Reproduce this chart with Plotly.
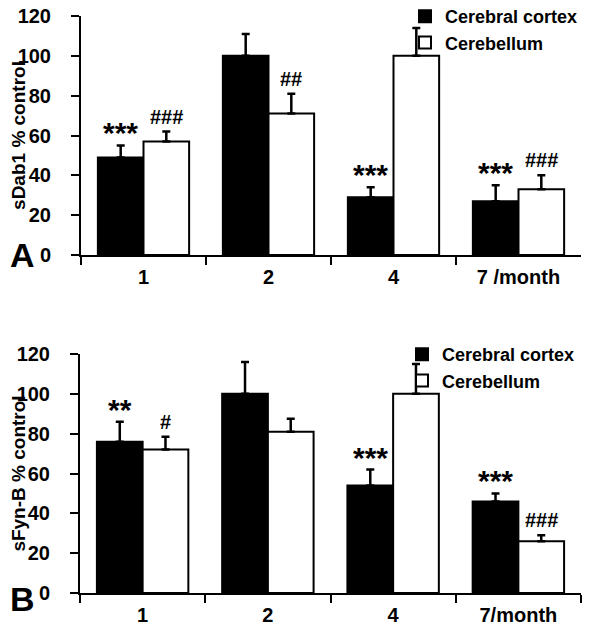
import plotly.graph_objects as go

# ---- data ----
months_a = ["1", "2", "4", "7 /month"]
months_b = ["1", "2", "4", "7/month"]

dab1_cortex = [49, 100, 29, 27]
dab1_cortex_err = [6, 11, 5, 8]
dab1_cereb = [57, 71, 100, 33]
dab1_cereb_err = [5, 10, 14, 7]
dab1_cortex_sig = ["***", "", "***", "***"]
dab1_cereb_sig = ["###", "##", "", "###"]

fyn_cortex = [76, 100, 54, 46]
fyn_cortex_err = [10, 16, 8, 4]
fyn_cereb = [72, 81, 100, 26]
fyn_cereb_err = [6.5, 6.5, 15, 3]
fyn_cortex_sig = ["**", "", "***", "***"]
fyn_cereb_sig = ["#", "", "", "###"]

series_names = ["Cerebral cortex", "Cerebellum"]
ytitles = ["sDab1 % control", "sFyn-B % control"]
panel_letters = ["A", "B"]

FONT = "Arial, 'Liberation Sans', sans-serif"
BARGAP = 0.27

# page body has an 8px margin: figure is laid out in its own pixel space
PAD = 8
W, H = 600 - PAD, 630 - PAD


def px(v):
    return (v - PAD) / W


def py(v):
    return 1 - (v - PAD) / H


fig = go.Figure()

panels = [
    (months_a, dab1_cortex, dab1_cortex_err, dab1_cereb, dab1_cereb_err,
     dab1_cortex_sig, dab1_cereb_sig, "x", "y", "legend"),
    (months_b, fyn_cortex, fyn_cortex_err, fyn_cereb, fyn_cereb_err,
     fyn_cortex_sig, fyn_cereb_sig, "x2", "y2", "legend2"),
]

annotations = []
for (cats, c_val, c_err, b_val, b_err, c_sig, b_sig, xa, ya, leg) in panels:
    for name, vals, errs, color in [(series_names[0], c_val, c_err, "black"),
                                    (series_names[1], b_val, b_err, "white")]:
        fig.add_trace(go.Bar(
            x=cats, y=vals, name=name, xaxis=xa, yaxis=ya, legend=leg,
            marker=dict(color=color, line=dict(color="black", width=2)),
            error_y=dict(type="data", symmetric=False, array=errs,
                         arrayminus=[0] * len(errs), color="black",
                         thickness=2.5, width=4),
        ))
    off = (1 - BARGAP) / 4
    for i in range(len(cats)):
        for sig, vals, errs, dx, fs in [(c_sig, c_val, c_err, -off, 30),
                                        (b_sig, b_val, b_err, off, 20)]:
            if sig[i]:
                annotations.append(dict(
                    x=i + dx, y=vals[i] + errs[i], xref=xa, yref=ya,
                    text=sig[i], showarrow=False, yanchor="bottom",
                    yshift=(-6 if "*" in sig[i] else 2),
                    font=dict(family=FONT, size=fs, color="black", weight="bold"),
                ))

# panel letters
for letter, yc in zip(panel_letters, [255, 599]):
    annotations.append(dict(x=px(22), y=py(yc), xref="paper", yref="paper",
                            xanchor="center", yanchor="middle",
                            text=letter, showarrow=False,
                            font=dict(family=FONT, size=34, color="black",
                                      weight="bold")))

tickfont = dict(family=FONT, size=20, color="black", weight="bold")
xcommon = dict(type="category", tickson="boundaries", ticks="outside", ticklen=8,
               tickwidth=2, tickcolor="black", showline=True, linewidth=2,
               linecolor="black", showgrid=False, zeroline=False,
               tickfont=tickfont, range=[-0.5, 3.5], automargin=False,
               ticklabelstandoff=3, ticklabeloverflow="allow")
ycommon = dict(range=[0, 120], dtick=20, ticks="outside", ticklen=8, tickwidth=2,
               tickcolor="black", showline=True, linewidth=2, linecolor="black",
               showgrid=False, zeroline=False, tickfont=tickfont,
               ticklabelstandoff=16, automargin=False, ticklabeloverflow="allow",
               title_font=dict(family=FONT, size=19, color="black", weight="bold"),
               title_standoff=3)

legfont = dict(family=FONT, size=18, color="black", weight="bold")

fig.update_layout(
    width=W, height=H,
    margin=dict(l=0, r=0, t=0, b=0, autoexpand=False),
    paper_bgcolor="white", plot_bgcolor="white",
    barmode="group", bargap=BARGAP, bargroupgap=0,
    xaxis=dict(domain=[px(81), px(581)], anchor="y", **xcommon),
    yaxis=dict(domain=[py(255), py(16)], anchor="x",
               title_text=ytitles[0], **ycommon),
    xaxis2=dict(domain=[px(80), px(581)], anchor="y2", **xcommon),
    yaxis2=dict(domain=[py(593), py(354)], anchor="x2",
                title_text=ytitles[1], **ycommon),
    legend=dict(x=px(405), y=py(-2), xanchor="left", yanchor="top",
                font=legfont, bgcolor="rgba(0,0,0,0)", itemclick=False),
    legend2=dict(x=px(402), y=py(336), xanchor="left", yanchor="top",
                 font=legfont, bgcolor="rgba(0,0,0,0)", itemclick=False),
    annotations=annotations,
    showlegend=True,
)

fig.write_html("out.html")
